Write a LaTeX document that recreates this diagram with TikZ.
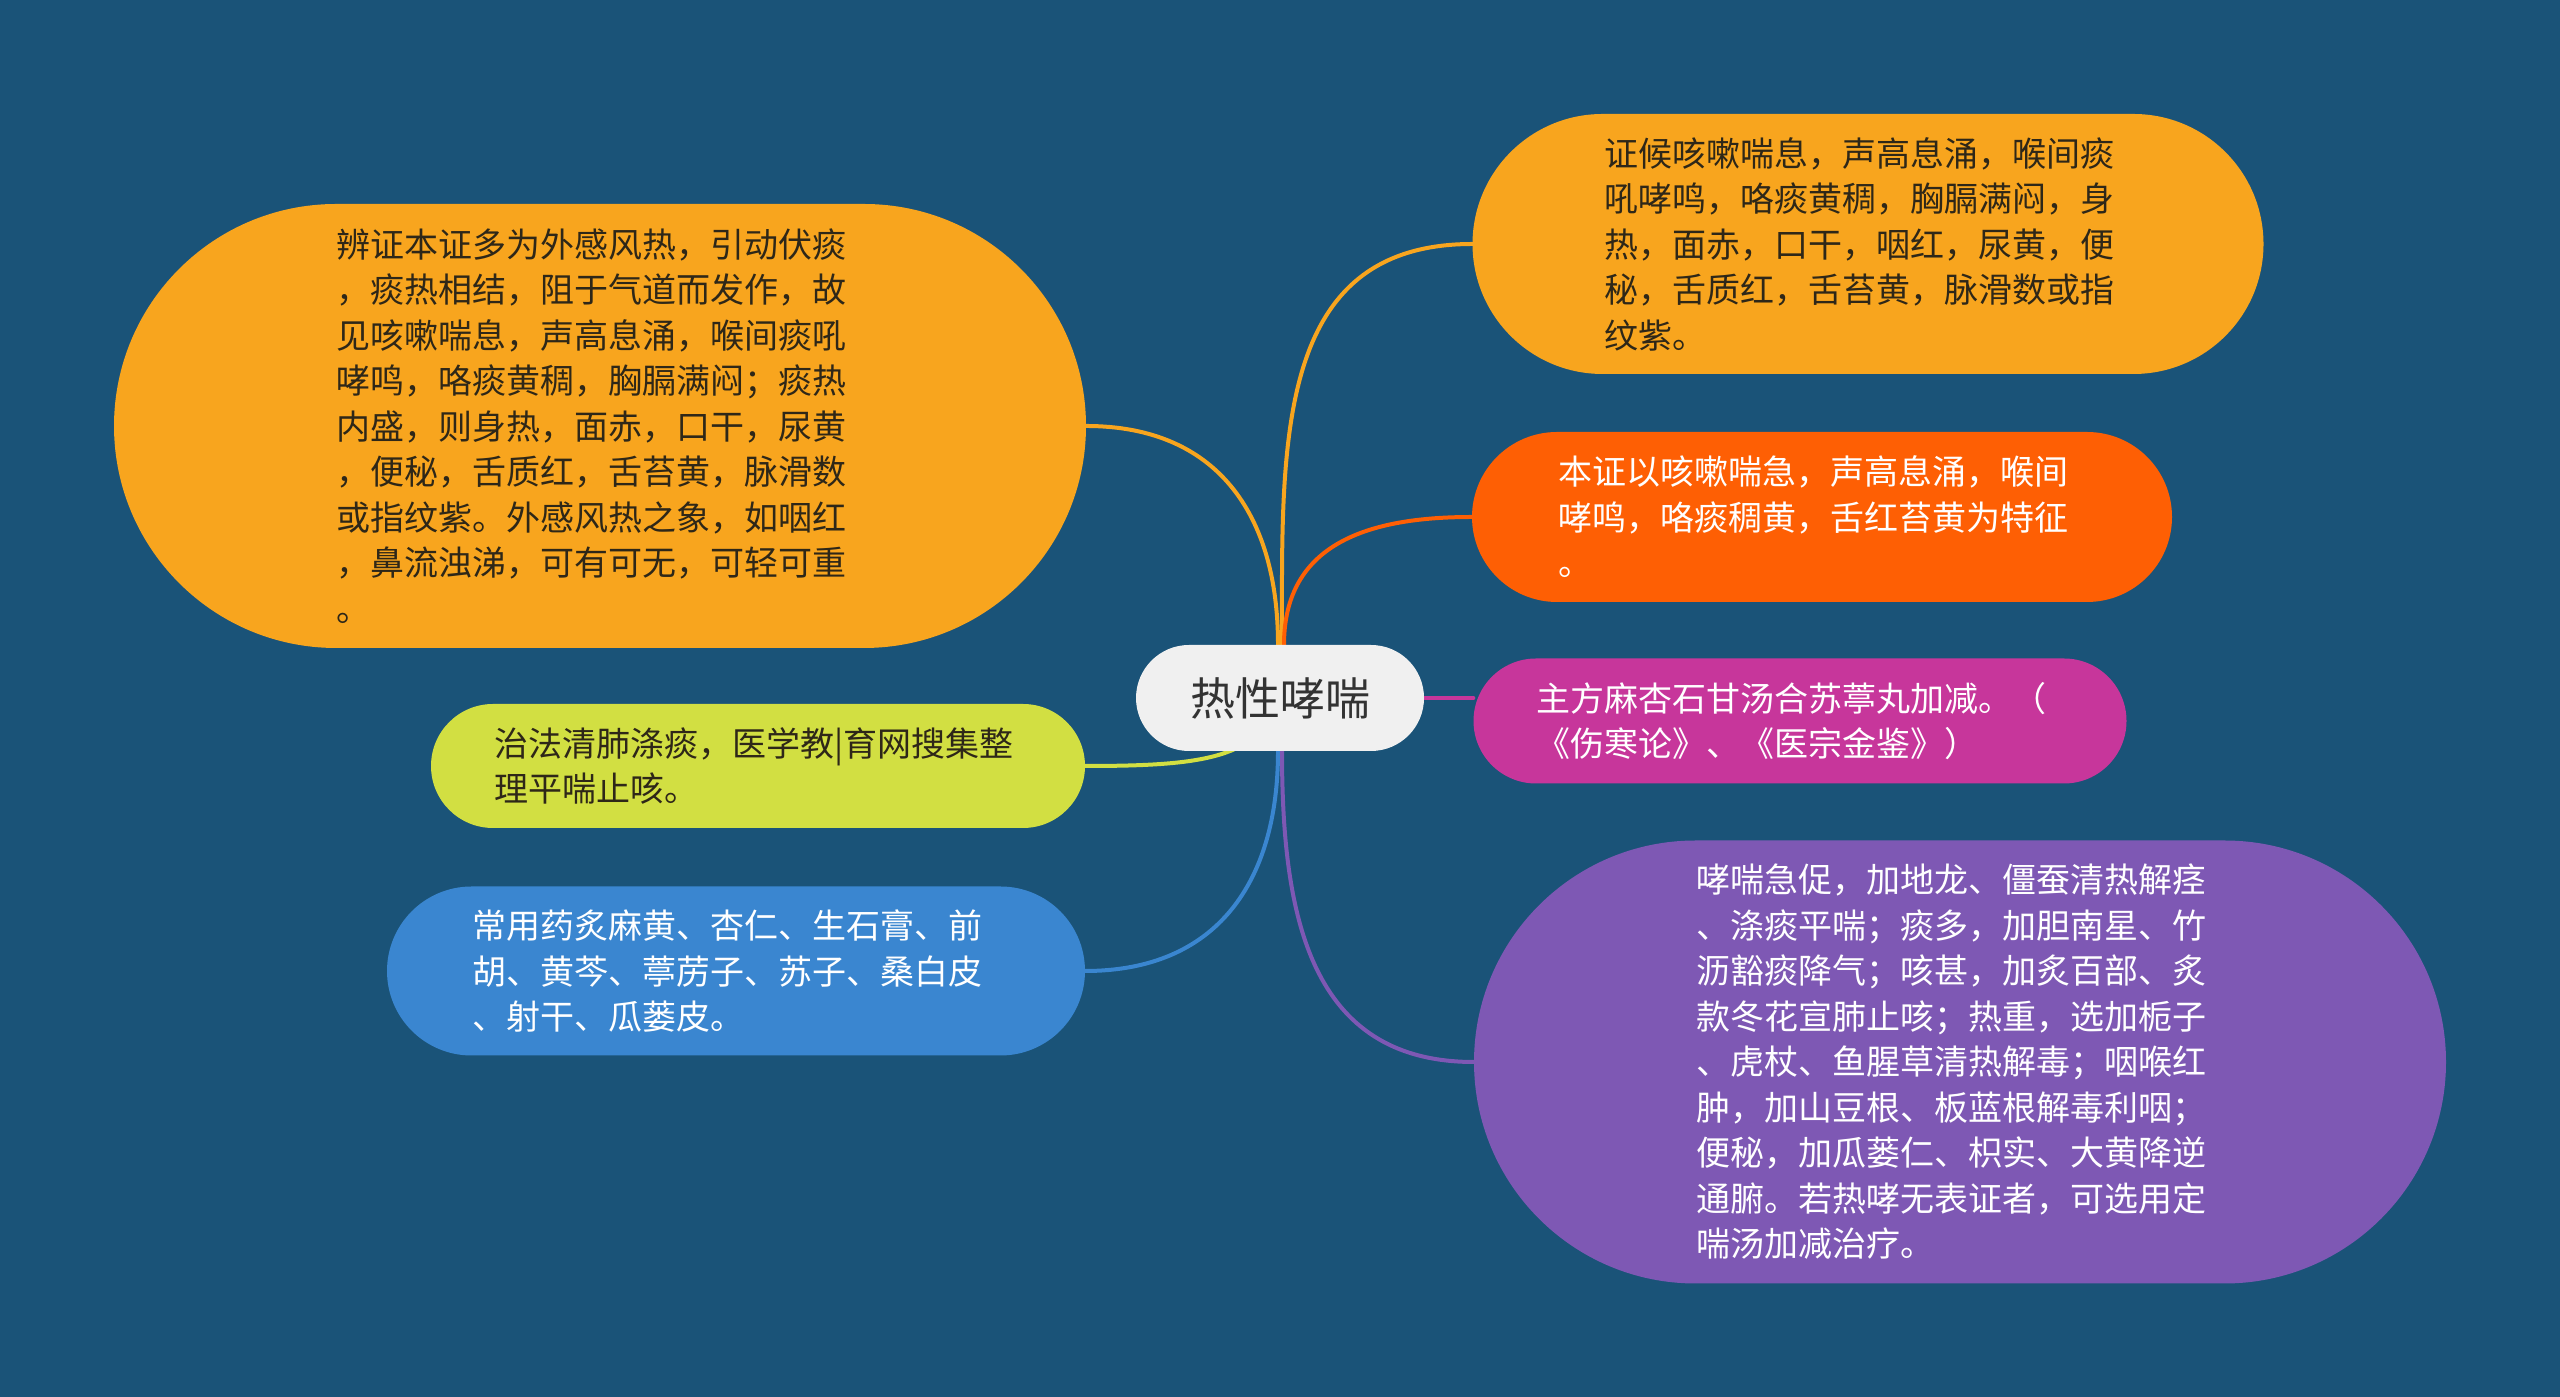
\documentclass[tikz,border=0pt]{standalone}
\usepackage{fontspec}
\setmainfont{Noto Sans CJK SC}
\usetikzlibrary{shapes.misc}
\pgfdeclarelayer{bg}
\pgfdeclarelayer{conn}
\pgfsetlayers{bg,conn,main}
\definecolor{bgc}{HTML}{1A5378}
\definecolor{corange}{HTML}{F8A51E}
\definecolor{cred}{HTML}{FE5F04}
\definecolor{cmag}{HTML}{C7369B}
\definecolor{cyel}{HTML}{D2DF42}
\definecolor{cblue}{HTML}{3A86D0}
\definecolor{cpur}{HTML}{7E58B4}
\definecolor{ccen}{HTML}{F0F0F0}
\definecolor{darktxt}{HTML}{2E2718}
\begin{document}
\begin{tikzpicture}[x=1pt,y=1pt,
  pill/.style={rounded rectangle, inner sep=0pt, align=left, text width=528pt,
    font=\fontsize{34pt}{45.5pt}\selectfont},
  conn/.style={line width=4pt, line cap=round}
]
\begin{pgfonlayer}{bg}
\fill[bgc] (0,0) rectangle (2560,1397);
\end{pgfonlayer}
\useasboundingbox (0,0) rectangle (2560,1397);

\node[rounded rectangle, fill=ccen, minimum width=288pt, minimum height=106pt,
  inner sep=0pt, text=black!80, font=\fontsize{45pt}{54pt}\selectfont] (c) at (1280,699) {热性哮喘};

\node[pill, fill=corange, text=darktxt, minimum width=972pt, minimum height=444pt] (tl) at (600,971) {%
辨证本证多为外感风热，引动伏痰\\
，痰热相结，阻于气道而发作，故\\
见咳嗽喘息，声高息涌，喉间痰吼\\
哮鸣，咯痰黄稠，胸膈满闷；痰热\\
内盛，则身热，面赤，口干，尿黄\\
，便秘，舌质红，舌苔黄，脉滑数\\
或指纹紫。外感风热之象，如咽红\\
，鼻流浊涕，可有可无，可轻可重\\
。};

\node[pill, fill=cyel, text=darktxt, minimum width=654pt, minimum height=124pt] (ye) at (758,631) {%
治法清肺涤痰，医学教|育网搜集整\\
理平喘止咳。};

\node[pill, fill=cblue, text=white, minimum width=698pt, minimum height=169pt] (bl) at (736,426) {%
常用药炙麻黄、杏仁、生石膏、前\\
胡、黄芩、葶苈子、苏子、桑白皮\\
、射干、瓜蒌皮。};

\node[pill, fill=corange, text=darktxt, minimum width=791pt, minimum height=260pt] (tr) at (1868,1153) {%
证候咳嗽喘息，声高息涌，喉间痰\\
吼哮鸣，咯痰黄稠，胸膈满闷，身\\
热，面赤，口干，咽红，尿黄，便\\
秘，舌质红，舌苔黄，脉滑数或指\\
纹紫。};

\node[pill, fill=cred, text=white, minimum width=700pt, minimum height=170pt] (or) at (1822,880) {%
本证以咳嗽喘急，声高息涌，喉间\\
哮鸣，咯痰稠黄，舌红苔黄为特征\\
。};

\node[pill, fill=cmag, text=white, minimum width=653pt, minimum height=125pt] (mg) at (1800,676) {%
主方麻杏石甘汤合苏葶丸加减。（\\
《伤寒论》、《医宗金鉴》）};

\node[pill, fill=cpur, text=white, minimum width=972pt, minimum height=443pt] (pu) at (1960,335) {%
哮喘急促，加地龙、僵蚕清热解痉\\
、涤痰平喘；痰多，加胆南星、竹\\
沥豁痰降气；咳甚，加炙百部、炙\\
款冬花宣肺止咳；热重，选加栀子\\
、虎杖、鱼腥草清热解毒；咽喉红\\
肿，加山豆根、板蓝根解毒利咽；\\
便秘，加瓜蒌仁、枳实、大黄降逆\\
通腑。若热哮无表证者，可选用定\\
喘汤加减治疗。};

\begin{pgfonlayer}{conn}
\draw[conn, corange] ([xshift=-2pt]c.north) to[out=90, in=0, looseness=1.15] (tl.east);
\draw[conn, corange] ([xshift=2pt]c.north) to[out=90, in=180, looseness=1.15] (tr.west);
\draw[conn, cred] ([xshift=4pt]c.north) to[out=90, in=180, looseness=1.15] (or.west);
\draw[conn, cmag] (c.center) -- (c.center -| mg.west);
\draw[conn, cyel] (c.center) .. controls +(-20,-60) and +(120,0) .. (ye.east);
\draw[conn, cblue] ([xshift=-2pt]c.south) to[out=270, in=0, looseness=1.15] (bl.east);
\draw[conn, cpur] ([xshift=2pt]c.south) to[out=270, in=180, looseness=1.15] (pu.west);
\end{pgfonlayer}
\end{tikzpicture}
\end{document}
